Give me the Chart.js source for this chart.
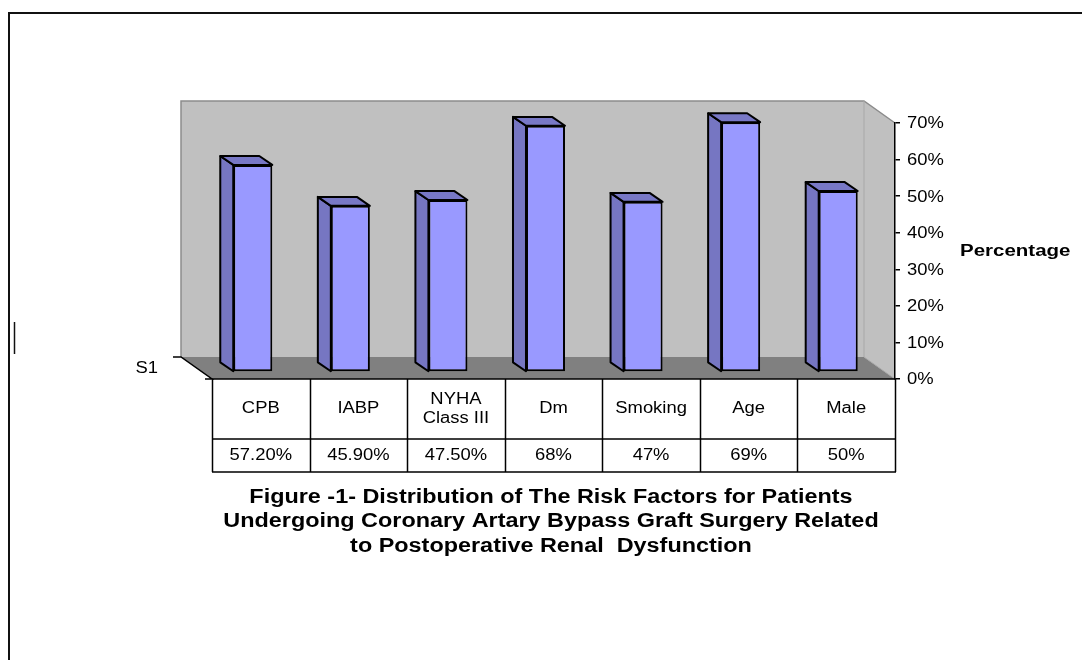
<!DOCTYPE html>
<html>
<head>
<meta charset="utf-8">
<script src="https://cdn.jsdelivr.net/npm/chart.js@4.4.1/dist/chart.umd.min.js"></script>
<style>
  html, body { margin: 0; padding: 0; background: #ffffff; }
  canvas { display: block; }
</style>
</head>
<body>
<canvas id="chart" width="1082" height="660"></canvas>
<script>
// Risk factors (table header rows, one entry per column; inner arrays are text lines)
const categories = [['CPB'], ['IABP'], ['NYHA', 'Class III'], ['Dm'], ['Smoking'], ['Age'], ['Male']];
// Share of patients with each risk factor, in percent
const values = [57.2, 45.9, 47.5, 68, 47, 69, 50];
// Value row of the data table, as printed
const valueLabels = ['57.20%', '45.90%', '47.50%', '68%', '47%', '69%', '50%'];
const seriesName = 'S1';
const axisTitle = 'Percentage';
const yTickValues = [0, 10, 20, 30, 40, 50, 60, 70];
const titleLines = [
  'Figure -1- Distribution of The Risk Factors for Patients',
  'Undergoing Coronary Artary Bypass Graft Surgery Related',
  'to Postoperative Renal  Dysfunction'
];

const FONT = '"Liberation Sans", Arial, sans-serif';
const LABEL_SX = 1.15;              // the figure's lettering is set a little wide
const TITLE_SX = 1.17;

// Oblique 3-D look: depth of the plot box and of each column
const WALL_DX = 31, WALL_DY = 22;   // front plane -> back wall
const BAR_FX = -8, BAR_FY = -7;     // front plane -> column front face
const BAR_DX = -13, BAR_DY = -9;    // column front face -> column back face
const BAR_SHRINK = 0.99;            // slight foreshortening of the columns

function poly(ctx, pts) {
  ctx.beginPath();
  ctx.moveTo(pts[0][0], pts[0][1]);
  for (let i = 1; i < pts.length; i++) ctx.lineTo(pts[i][0], pts[i][1]);
  ctx.closePath();
}

// text drawn with a horizontal stretch, anchored at (x, y)
function wideText(ctx, text, x, y, sx) {
  ctx.save();
  ctx.translate(x, y);
  ctx.scale(sx, 1);
  ctx.fillText(text, 0, 0);
  ctx.restore();
}

const scene3d = {
  id: 'scene3d',
  beforeDraw(chart) {
    const ctx = chart.ctx;
    const a = chart.chartArea;
    ctx.save();
    // page frame
    ctx.strokeStyle = '#111';
    ctx.lineWidth = 2;
    ctx.beginPath();
    ctx.moveTo(1082, 13);
    ctx.lineTo(9, 13);
    ctx.lineTo(9, 660);
    ctx.stroke();
    ctx.lineWidth = 1.5;
    ctx.beginPath();
    ctx.moveTo(14.5, 322);
    ctx.lineTo(14.5, 354);
    ctx.stroke();

    const bl = a.left - WALL_DX, bt = a.top - WALL_DY, br = a.right - WALL_DX, bb = a.bottom - WALL_DY;
    // back wall
    ctx.fillStyle = '#C0C0C0';
    ctx.fillRect(bl, bt, br - bl, bb - bt);
    // side wall
    poly(ctx, [[br, bt], [a.right, a.top], [a.right, a.bottom], [br, bb]]);
    ctx.fill();
    // floor
    ctx.fillStyle = '#808080';
    poly(ctx, [[bl, bb], [br, bb], [a.right, a.bottom], [a.left, a.bottom]]);
    ctx.fill();

    // wall edges
    ctx.strokeStyle = '#8C8C8C';
    ctx.lineWidth = 1.5;
    ctx.beginPath();
    ctx.moveTo(bl, bb);
    ctx.lineTo(bl, bt);
    ctx.lineTo(br, bt);
    ctx.lineTo(a.right, a.top);
    ctx.stroke();
    ctx.strokeStyle = '#A8A8A8';
    ctx.lineWidth = 1;
    ctx.beginPath();
    ctx.moveTo(br, bt);
    ctx.lineTo(br, bb);
    ctx.lineTo(a.right, a.bottom);
    ctx.stroke();

    // depth (series) axis along the left floor edge
    ctx.strokeStyle = '#000';
    ctx.lineWidth = 1.5;
    ctx.beginPath();
    ctx.moveTo(bl - 8, bb);
    ctx.lineTo(bl, bb);
    ctx.lineTo(a.left, a.bottom);
    ctx.lineTo(a.left - 7, a.bottom);
    ctx.stroke();
    ctx.fillStyle = '#000';
    ctx.font = '16px ' + FONT;
    ctx.textAlign = 'right';
    ctx.textBaseline = 'middle';
    wideText(ctx, seriesName, bl - 23, bb + 12, LABEL_SX);
    ctx.restore();
  },
  beforeDatasetsDraw(chart) {
    const ctx = chart.ctx;
    const a = chart.chartArea;
    ctx.save();
    // columns stand a little behind the front plane
    ctx.translate(BAR_FX, BAR_FY + a.bottom * (1 - BAR_SHRINK));
    ctx.scale(1, BAR_SHRINK);
    // side and top faces of every column, behind the front faces
    const meta = chart.getDatasetMeta(0);
    ctx.lineWidth = 2;
    ctx.lineJoin = 'round';
    ctx.strokeStyle = '#000';
    meta.data.forEach(el => {
      const p = el.getProps(['x', 'y', 'base', 'width'], true);
      const l = p.x - p.width / 2, r = p.x + p.width / 2;
      ctx.fillStyle = '#7676C2';
      poly(ctx, [[l, p.y], [l + BAR_DX, p.y + BAR_DY], [l + BAR_DX, p.base + BAR_DY], [l, p.base]]);
      ctx.fill();
      ctx.stroke();
      ctx.fillStyle = '#7878C6';
      poly(ctx, [[l, p.y], [l + BAR_DX, p.y + BAR_DY], [r + BAR_DX, p.y + BAR_DY], [r, p.y]]);
      ctx.fill();
      ctx.stroke();
    });
  },
  afterDatasetsDraw(chart) {
    chart.ctx.restore();
  },
  afterDraw(chart) {
    const ctx = chart.ctx;
    const a = chart.chartArea;
    const xs = chart.scales.x;
    const ys = chart.scales.y;
    ctx.save();
    ctx.fillStyle = '#000';

    // value-axis tick labels, placed by the axis
    ctx.font = '16px ' + FONT;
    ctx.textAlign = 'left';
    ctx.textBaseline = 'middle';
    ys.ticks.forEach(t => {
      wideText(ctx, t.value + '%', ys.left + 12, ys.getPixelForValue(t.value) + 1, LABEL_SX);
    });

    // data table under the plot
    const rowTop = a.bottom, rowMid = a.bottom + 60, rowBot = a.bottom + 93;
    const colW = (a.right - a.left) / categories.length;
    ctx.strokeStyle = '#000';
    ctx.lineWidth = 1.5;
    ctx.beginPath();
    ctx.moveTo(a.left, rowTop);
    ctx.lineTo(a.right + 1, rowTop);
    ctx.moveTo(a.left, rowMid);
    ctx.lineTo(a.right + 1, rowMid);
    ctx.moveTo(a.left, rowBot);
    ctx.lineTo(a.right + 1, rowBot);
    for (let i = 0; i <= categories.length; i++) {
      const x = Math.round(a.left + i * colW) + 0.5;
      ctx.moveTo(x, rowTop);
      ctx.lineTo(x, rowBot);
    }
    ctx.stroke();

    ctx.textAlign = 'center';
    categories.forEach((lines, i) => {
      const cx = xs.getPixelForValue(i);
      const lh = 19;
      const y0 = (rowTop + rowMid) / 2 - (lines.length - 1) * lh / 2;
      lines.forEach((t, k) => wideText(ctx, t, cx, y0 + k * lh, LABEL_SX));
      wideText(ctx, valueLabels[i], cx, (rowMid + rowBot) / 2, LABEL_SX);
    });

    // axis title, horizontal beside the value axis
    ctx.font = 'bold 16px ' + FONT;
    ctx.textAlign = 'left';
    wideText(ctx, axisTitle, 960, 252, 1.28);

    // figure caption
    ctx.font = 'bold 20px ' + FONT;
    ctx.textAlign = 'center';
    titleLines.forEach((t, k) => wideText(ctx, t, 551, 497 + k * 24.5, TITLE_SX));
    ctx.restore();
  }
};

new Chart(document.getElementById('chart').getContext('2d'), {
  type: 'bar',
  data: {
    labels: categories.map(l => l.join(' ')),
    datasets: [{
      label: seriesName,
      data: values,
      backgroundColor: '#9999FF',
      borderColor: '#000',
      borderWidth: 2,
      borderSkipped: false,
      categoryPercentage: 1,
      barPercentage: 0.4
    }]
  },
  options: {
    responsive: false,
    animation: false,
    layout: { padding: { left: 212, top: 123, right: 0, bottom: 281 } },
    plugins: {
      legend: { display: false },
      tooltip: { enabled: false },
      title: { display: false }
    },
    scales: {
      x: { display: false, offset: true },
      y: {
        position: 'right',
        min: 0,
        max: 70,
        afterBuildTicks: s => { s.ticks = yTickValues.map(v => ({ value: v })); },
        afterFit: s => { s.width = 187; },
        ticks: { display: false },
        grid: { drawOnChartArea: false, tickLength: 5, color: '#000', lineWidth: 1.5 },
        border: { display: true, color: '#000', width: 1.5 }
      }
    }
  },
  plugins: [scene3d]
});
</script>
</body>
</html>
